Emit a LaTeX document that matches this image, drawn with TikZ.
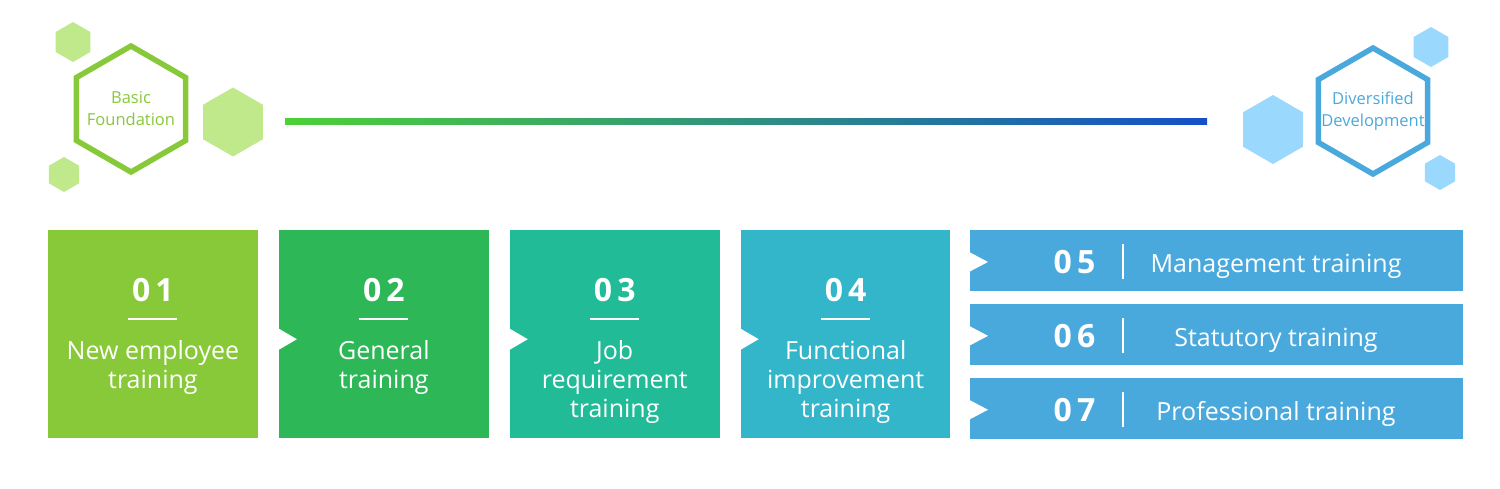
\documentclass[tikz,border=0pt]{standalone}
\usepackage{fontspec}
\setmainfont{Open Sans}
\usetikzlibrary{shapes.geometric, positioning}

\definecolor{leafgreen}{HTML}{88C93A}
\definecolor{palegreen}{HTML}{BFE98A}
\definecolor{grassgreen}{HTML}{2DB757}
\definecolor{tealgreen}{HTML}{22BB98}
\definecolor{cyanblue}{HTML}{33B5CA}
\definecolor{skyblue}{HTML}{4AA9DC}
\definecolor{paleblue}{HTML}{9AD8FD}
\definecolor{lineleft}{HTML}{4CD137}
\definecolor{lineright}{HTML}{1450C8}

\newcommand\twodigits[2]{#1\kern5pt#2}

\begin{document}
\begin{tikzpicture}[x=1pt, y=-1pt, node distance=21pt,
    hexring/.style={regular polygon, regular polygon sides=6, shape border rotate=30, draw, line width=5.5pt, fill=white, inner sep=0pt, minimum size=126pt},
    hexdot/.style={regular polygon, regular polygon sides=6, shape border rotate=30, inner sep=0pt},
    hextext/.style={font=\fontsize{16.5}{22}\selectfont, align=center},
    stepbox/.style={rectangle, inner sep=0pt, minimum width=209.5pt, minimum height=208pt},
    rowbox/.style={rectangle, inner sep=0pt, fill=skyblue, minimum width=493pt, minimum height=60.5pt},
    stepno/.style={font=\fontsize{32}{32}\selectfont\bfseries, text=white, anchor=base, inner sep=0pt},
    steptext/.style={font=\fontsize{25}{29}\selectfont, text=white, align=center, anchor=base, inner sep=0pt},
    rowtext/.style={font=\fontsize{25}{25}\selectfont, text=white, anchor=base, inner sep=0pt},
    bar/.style={fill=white, inner sep=0pt, minimum width=49pt, minimum height=1.2pt},
    divider/.style={fill=white, inner sep=0pt, minimum width=1.2pt, minimum height=35pt},
    notch/.style={fill=white}]

    \useasboundingbox (0,0) rectangle (1500,488);

    % left hexagons
    \node[hexdot, fill=palegreen, minimum size=40pt] (g1) at (73,42) {};
    \node[hexdot, fill=palegreen, minimum size=69pt] (g2) at (233,122) {};
    \node[hexdot, fill=palegreen, minimum size=35pt] (g3) at (64,174.5) {};
    \node[hexring, draw=leafgreen] (basic) at (131,109) {};
    \node[hextext, text=leafgreen] (basictext) at (basic) {Basic\\Foundation};

    % gradient line
    \coordinate (lineL) at (285,121.5);
    \coordinate (lineR) at (1207,121.5);
    \shade[left color=lineleft, right color=lineright] ([yshift=3pt]lineL) rectangle ([yshift=-3pt]lineR);

    % right hexagons
    \node[hexdot, fill=paleblue, minimum size=40pt] (h1) at (1431,47) {};
    \node[hexdot, fill=paleblue, minimum size=69pt] (h2) at (1273,129.5) {};
    \node[hexdot, fill=paleblue, minimum size=35pt] (h3) at (1440,172.5) {};
    \node[hexring, draw=skyblue] (diverse) at (1373,111) {};
    \node[hextext, text=skyblue] (diversetext) at (diverse) {Diversified\\Development};

    % boxes
    \node[stepbox, fill=leafgreen, anchor=north west] (b1) at (48,230) {};
    \node[stepbox, fill=grassgreen, right=of b1] (b2) {};
    \node[stepbox, fill=tealgreen, right=of b2] (b3) {};
    \node[stepbox, fill=cyanblue, right=of b3] (b4) {};
    \node[rowbox, anchor=north west] (r5) at (970,230) {};
    \node[rowbox, below=13pt of r5] (r6) {};
    \node[rowbox, below=13pt of r6] (r7) {};

    % notches
    \fill[notch] ([yshift=-5pt]b2.west) +(0,-10.5) -- +(18,0) -- +(0,10.5) -- cycle;
    \fill[notch] ([yshift=-5pt]b3.west) +(0,-10.5) -- +(18,0) -- +(0,10.5) -- cycle;
    \fill[notch] ([yshift=-5pt]b4.west) +(0,-10.5) -- +(18,0) -- +(0,10.5) -- cycle;
    \fill[notch] ([yshift=-1.5pt]r5.west) +(0,-9.5) -- +(18,0) -- +(0,9.5) -- cycle;
    \fill[notch] ([yshift=-1.5pt]r6.west) +(0,-9.5) -- +(18,0) -- +(0,9.5) -- cycle;
    \fill[notch] ([yshift=-1.5pt]r7.west) +(0,-9.5) -- +(18,0) -- +(0,9.5) -- cycle;

    % box texts (base = last line)
    \node[stepno] (n1) at ([yshift=-71pt]b1.north) {\twodigits01};
    \node[bar] (u1) at ([yshift=-89pt]b1.north) {};
    \node[steptext] (t1) at ([yshift=-158pt]b1.north) {New employee\\training};
    \node[stepno] (n2) at ([yshift=-71pt]b2.north) {\twodigits02};
    \node[bar] (u2) at ([yshift=-89pt]b2.north) {};
    \node[steptext] (t2) at ([yshift=-158pt]b2.north) {General\\training};
    \node[stepno] (n3) at ([yshift=-71pt]b3.north) {\twodigits03};
    \node[bar] (u3) at ([yshift=-89pt]b3.north) {};
    \node[steptext] (t3) at ([yshift=-187pt]b3.north) {Job\\requirement\\training};
    \node[stepno] (n4) at ([yshift=-71pt]b4.north) {\twodigits04};
    \node[bar] (u4) at ([yshift=-89pt]b4.north) {};
    \node[steptext] (t4) at ([yshift=-187pt]b4.north) {Functional\\improvement\\training};

    % row texts
    \node[stepno] (n5) at ([xshift=104.5pt, yshift=-12.75pt]r5.west) {\twodigits05};
    \node[divider] (d5) at ([xshift=153pt, yshift=-1pt]r5.west) {};
    \node[rowtext] (t5) at ([xshift=306pt, yshift=-11.75pt]r5.west) {Management training};
    \node[stepno] (n6) at ([xshift=104.5pt, yshift=-12.75pt]r6.west) {\twodigits06};
    \node[divider] (d6) at ([xshift=153pt, yshift=-1pt]r6.west) {};
    \node[rowtext] (t6) at ([xshift=306pt, yshift=-11.75pt]r6.west) {Statutory training};
    \node[stepno] (n7) at ([xshift=104.5pt, yshift=-12.75pt]r7.west) {\twodigits07};
    \node[divider] (d7) at ([xshift=153pt, yshift=-1pt]r7.west) {};
    \node[rowtext] (t7) at ([xshift=306pt, yshift=-11.75pt]r7.west) {Professional training};
\end{tikzpicture}
\end{document}
